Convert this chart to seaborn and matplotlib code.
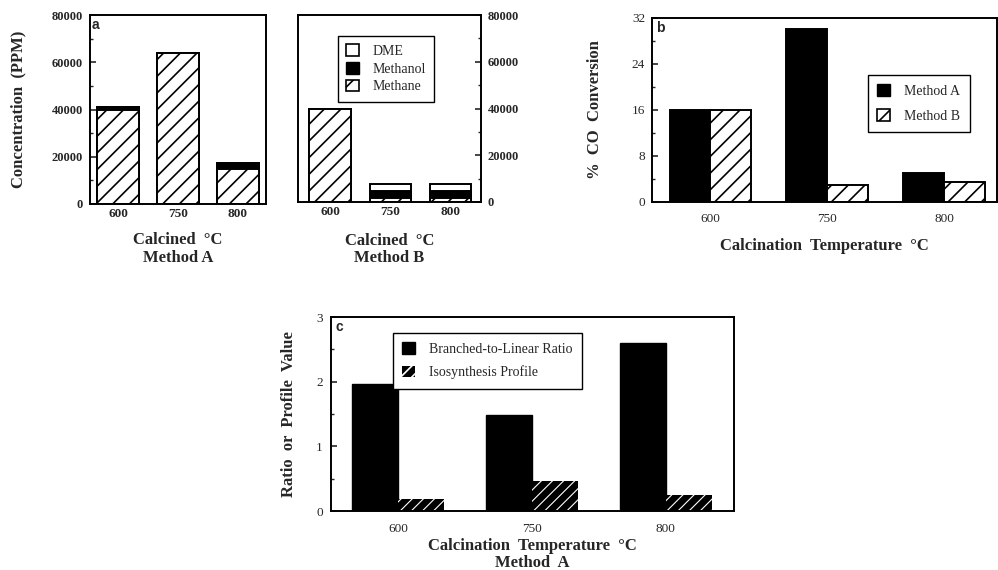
import pandas as pd
import seaborn as sns
import matplotlib.pyplot as plt
from matplotlib.patches import Patch
from matplotlib.ticker import MultipleLocator


TEMPS = ['600', '750', '800']

# panel a: products (ppm), catalyst calcined by method A
methane_a = [40000, 64000, 15000]
methanol_a = [1000, 0, 2300]
dme_a = [0, 0, 0]

# panel a (right): products (ppm), method B
methane_b = [40000, 1900, 1900]
methanol_b = [0, 2800, 2800]
dme_b = [0, 3200, 3200]

# panel b: % CO conversion
conv_method_a = [16.0, 30.1, 5.1]
conv_method_b = [16.0, 3.0, 3.4]

# panel c: method A
branched_ratio = [1.97, 1.48, 2.60]
iso_profile = [0.18, 0.47, 0.24]

W, H = 998, 570

sns.set_style('ticks')
plt.rcParams['font.family'] = ['Liberation Serif', 'DejaVu Serif']
plt.rcParams['hatch.linewidth'] = 1.2
plt.rcParams['axes.linewidth'] = 1.4

fig = plt.figure(figsize=(W / 100, H / 100), dpi=100)


def px_axes(x0, y0, x1, y1):
    # axes from pixel box (top-left origin)
    return fig.add_axes([x0 / W, 1 - y1 / H, (x1 - x0) / W, (y1 - y0) / H])


def stacked_bars(ax, methane, methanol, dme, width):
    df = pd.DataFrame({'temp': TEMPS, 'methane': methane, 'methanol': methanol, 'dme': dme})
    df['mid'] = df['methane'] + df['methanol']
    df['top'] = df['mid'] + df['dme']
    common = dict(data=df, x='temp', width=width, errorbar=None, saturation=1,
                  edgecolor='black', linewidth=1.4, ax=ax)
    sns.barplot(y='top', color='white', **common)
    sns.barplot(y='mid', color='black', **common)
    sns.barplot(y='methane', color='white', hatch='//', **common)


def style_axes(ax, letter=None):
    for s in ax.spines.values():
        s.set_visible(True)
        s.set_color('black')
    ax.tick_params(axis='y', which='both', direction='in', labelsize=9)
    ax.tick_params(axis='y', which='major', length=4, width=1.2)
    ax.tick_params(axis='y', which='minor', length=2.5, width=1.0)
    ax.tick_params(axis='x', length=0, labelsize=9.5)
    if letter:
        ax.text(0.012, 0.985, letter, transform=ax.transAxes, va='top', ha='left',
                fontsize=10, fontweight='bold', family='Liberation Sans')


legend_kw = dict(frameon=True, fancybox=False, edgecolor='black', framealpha=1,
                 handlelength=0.9, handleheight=0.9, handletextpad=1.0,
                 prop={'family': 'Liberation Serif', 'size': 10})

# ---------- panel a, method A ----------
ax_a = px_axes(90, 15, 266, 204)
stacked_bars(ax_a, methane_a, methanol_a, dme_a, 0.7)
ax_a.set_ylim(0, 80000)
ax_a.set_xlim(-0.47, 2.47)
ax_a.yaxis.set_major_locator(MultipleLocator(20000))
ax_a.yaxis.set_minor_locator(MultipleLocator(10000))
style_axes(ax_a, 'a')
ax_a.tick_params(axis='x', pad=3)
ax_a.tick_params(axis='y', pad=5)
for t in ax_a.get_xticklabels() + ax_a.get_yticklabels():
    t.set_fontweight('bold')
ax_a.set_ylabel('Concentration  (PPM)', fontsize=12, fontweight='bold')
ax_a.yaxis.set_label_coords(-0.36, 0.5)
ax_a.set_xlabel('Calcined  °C\nMethod A', fontsize=12, fontweight='bold', linespacing=1.1)
ax_a.xaxis.set_label_coords(0.5, -0.15)

# ---------- panel a, method B ----------
ax_b0 = px_axes(298, 15, 481, 202)
stacked_bars(ax_b0, methane_b, methanol_b, dme_b, 0.68)
ax_b0.set_ylim(0, 80000)
ax_b0.set_xlim(-0.53, 2.5)
ax_b0.yaxis.tick_right()
ax_b0.yaxis.set_major_locator(MultipleLocator(20000))
ax_b0.yaxis.set_minor_locator(MultipleLocator(10000))
style_axes(ax_b0)
ax_b0.tick_params(axis='x', pad=3)
ax_b0.tick_params(axis='y', pad=5)
for t in ax_b0.get_xticklabels() + ax_b0.get_yticklabels():
    t.set_fontweight('bold')
ax_b0.set_ylabel('')
ax_b0.set_xlabel('Calcined  °C\nMethod B', fontsize=12, fontweight='bold', linespacing=1.1)
ax_b0.xaxis.set_label_coords(0.5, -0.165)
handles = [Patch(facecolor='white', edgecolor='black', linewidth=1.2),
           Patch(facecolor='black', edgecolor='black'),
           Patch(facecolor='white', edgecolor='black', hatch='/', linewidth=1.2)]
ax_b0.legend(handles, ['DME', 'Methanol', 'Methane'], loc='upper left',
             bbox_to_anchor=(0.18, 0.925), labelspacing=0.3, borderpad=0.6, **legend_kw)

# ---------- panel b ----------
ax_b = px_axes(652, 18, 997, 202)
df_conv = pd.DataFrame({
    'temp': TEMPS * 2,
    'method': ['Method A'] * 3 + ['Method B'] * 3,
    'conv': conv_method_a + conv_method_b,
})
sns.barplot(data=df_conv, x='temp', y='conv', hue='method', palette=['black', 'white'],
            edgecolor='black', linewidth=1.4, width=0.7, saturation=1, errorbar=None,
            legend=False, ax=ax_b)
for p in ax_b.containers[1]:
    p.set_hatch('//')
ax_b.set_ylim(0, 32)
ax_b.set_xlim(-0.5, 2.45)
ax_b.yaxis.set_major_locator(MultipleLocator(8))
ax_b.yaxis.set_minor_locator(MultipleLocator(4))
style_axes(ax_b, 'b')
ax_b.tick_params(axis='x', pad=8)
ax_b.tick_params(axis='y', pad=5, labelsize=9.5)
ax_b.set_ylabel('%  CO  Conversion', fontsize=12, fontweight='bold')
ax_b.yaxis.set_label_coords(-0.142, 0.5)
ax_b.set_xlabel('Calcination  Temperature  °C', fontsize=12, fontweight='bold')
ax_b.xaxis.set_label_coords(0.5, -0.195)
handles = [Patch(facecolor='black', edgecolor='black'),
           Patch(facecolor='white', edgecolor='black', hatch='/', linewidth=1.2)]
ax_b.legend(handles, ['Method A', 'Method B'], loc='upper left',
            bbox_to_anchor=(0.605, 0.73), labelspacing=0.8, borderpad=0.7, **legend_kw)

# ---------- panel c ----------
ax_c = px_axes(331, 317, 734, 511)
df_c = pd.DataFrame({
    'temp': TEMPS * 2,
    'kind': ['Branched-to-Linear Ratio'] * 3 + ['Isosynthesis Profile'] * 3,
    'value': branched_ratio + iso_profile,
})
sns.barplot(data=df_c, x='temp', y='value', hue='kind', palette=['black', 'black'],
            edgecolor='black', linewidth=1.0, width=0.69, saturation=1, errorbar=None,
            legend=False, ax=ax_c)
for p in ax_c.containers[1]:
    p.set_hatch('///')
    p.set_edgecolor('white')
    p.set_linewidth(0)
    if hasattr(p, 'set_hatch_linewidth'):
        p.set_hatch_linewidth(0.8)
ax_c.set_ylim(0, 3)
ax_c.set_xlim(-0.5, 2.51)
ax_c.yaxis.set_major_locator(MultipleLocator(1))
ax_c.yaxis.set_minor_locator(MultipleLocator(0.5))
style_axes(ax_c, 'c')
ax_c.tick_params(axis='x', pad=9)
ax_c.tick_params(axis='y', pad=6, labelsize=9.5)
ax_c.set_ylabel('Ratio  or  Profile  Value', fontsize=12, fontweight='bold')
ax_c.yaxis.set_label_coords(-0.084, 0.5)
ax_c.set_xlabel('Calcination  Temperature  °C\nMethod  A', fontsize=12, fontweight='bold',
                linespacing=1.05)
ax_c.xaxis.set_label_coords(0.5, -0.14)
handles = [Patch(facecolor='black', edgecolor='black'),
           Patch(facecolor='black', edgecolor='white', hatch='///', linewidth=0)]
ax_c.legend(handles, ['Branched-to-Linear Ratio', 'Isosynthesis Profile'], loc='upper left',
            bbox_to_anchor=(0.136, 0.955), labelspacing=0.7, borderpad=0.7, **legend_kw)

fig.savefig('out.png', dpi=100)
